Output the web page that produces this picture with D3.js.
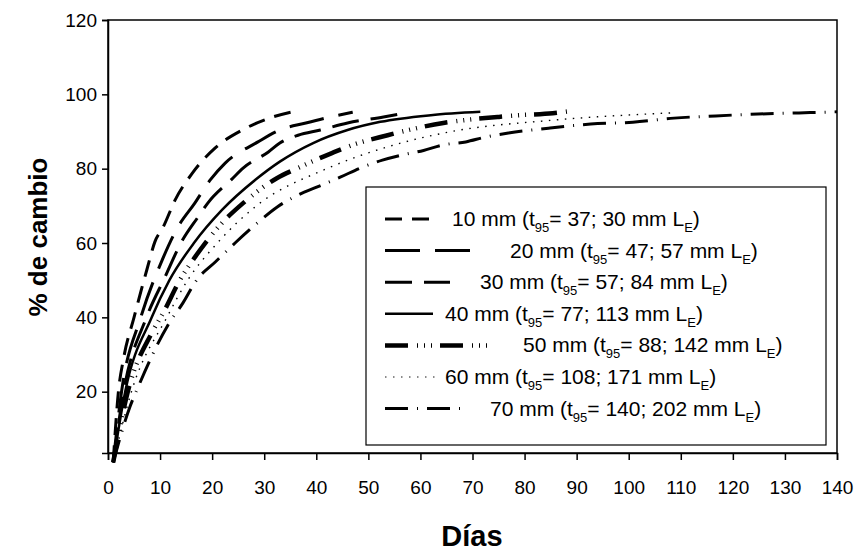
<!DOCTYPE html>
<meta charset="utf-8">
<style>
    body { margin: 0; background: #fff; }
    text { font-family: "Liberation Sans", Arial, sans-serif; fill: #000; }
    .curve { fill: none; stroke: #000; }
</style>
<body>
<script src="https://cdn.jsdelivr.net/npm/d3@7"></script>
<script>

    var width = 860,
        height = 552;

    // series labels and legend numbers
    var sizes = ["10 mm", "20 mm", "30 mm", "40 mm", "50 mm", "60 mm", "70 mm"];
    var t95 = [37, 47, 57, 77, 88, 108, 140];
    var lengthsE = [30, 57, 84, 113, 142, 171, 202];

    // readings from the picture: days and % de cambio
    var days10 = [1, 2, 3, 5, 7.5, 9, 10.6, 12.9, 16.2, 20.6, 25.8, 31, 36];
    var vals10 = [1, 20, 29, 40, 53, 60.3, 64.3, 71.6, 78.8, 85.6, 90.4, 93.6, 95.5];

    var days20 = [1, 2.6, 6.3, 10.4, 13.3, 16.7, 19.6, 22.5, 28.8, 33, 38, 42, 47];
    var vals20 = [1, 20, 40, 55.4, 64, 70.8, 76.9, 81.5, 87.2, 90.4, 92.3, 93.7, 95.2];

    var days30 = [1, 3, 7.4, 11, 14, 17.3, 19.2, 23.8, 26, 30.8, 33, 36.5, 40.8, 46, 52.9, 57.3];
    var vals30 = [1, 20, 40, 51, 60, 67, 70.8, 77.2, 80.2, 84.5, 86.9, 89, 90.4, 92.3, 93.9, 95];

    var days40 = [1, 3.3, 8.4, 11.8, 16.5, 21.9, 28.3, 33, 39.4, 46, 52.3, 62, 71.5];
    var vals40 = [1, 20, 40, 50, 60, 68.9, 77, 81.9, 86.9, 90.4, 92.6, 94.4, 95.3];

    var days50 = [1, 3.8, 8.4, 10.6, 13.8, 16.7, 21.9, 26, 32.5, 36.5, 43, 47, 53.7, 57.7, 64.4, 68.7, 74.8, 79.2, 85.4, 88.3];
    var vals50 = [1, 20, 35.8, 41.2, 50, 56.2, 65.4, 70.8, 77.5, 80.2, 84.2, 86.4, 89, 90.4, 92.3, 93.1, 93.9, 94.4, 94.9, 95.4];

    var days60 = [1, 4.5, 11.3, 15.3, 21, 28.5, 42, 54, 66, 85, 108];
    var vals60 = [1, 20, 40, 50, 60, 70, 80, 86, 90, 93, 95];

    var days70 = [1, 4.2, 5.8, 11.5, 14.4, 17, 20.6, 24.4, 28.7, 32.5, 36.5, 40.2, 44.6, 48.5, 52.7, 56.5, 60.6, 64.4, 68.7, 72.5, 76.9, 84.6, 92.7, 100.8, 108.7, 116.7, 124.8, 132.7, 140];
    var vals70 = [1, 15.9, 21.3, 37.9, 43.9, 50, 54.9, 60, 65.4, 69.7, 72.9, 75.1, 77.7, 80.2, 82.3, 83.7, 84.9, 86.4, 87.2, 88.5, 89.6, 90.9, 92, 92.5, 93.6, 94.2, 94.7, 95, 95.3];

    var xTicks = d3.range(0, 141, 10);
    var yTicks = [20, 40, 60, 80, 100, 120];

    var allDays = [days10, days20, days30, days40, days50, days60, days70];
    var allVals = [vals10, vals20, vals30, vals40, vals50, vals60, vals70];

    // line looks: dash pattern, width, colour
    var styles = [
        { dash: "17,10", w: 3, c: "#000" },
        { dash: "35,15", w: 3, c: "#000" },
        { dash: "27,12", w: 3, c: "#000" },
        { dash: null, w: 2.5, c: "#000" },
        { dash: "23,9,1,6,1,6,1,8", w: 4.5, c: "#000" },
        { dash: "1.5,6.5", w: 1.4, c: "#666" },
        { dash: "23,9,1,9", w: 3, c: "#000" }
    ];

    var pL = 108, pR = 837, pT = 20, pB = 453;

    var x = d3.scaleLinear().domain([0, 140]).range([pL, pR]);
    var y = d3.scaleLinear().domain([3.5, 120]).range([pB, pT]);

    var svg = d3.select("body").append("svg")
        .attr("width", width)
        .attr("height", height);

    // frame
    svg.append("rect")
        .attr("x", pL).attr("y", pT)
        .attr("width", pR - pL).attr("height", pB - pT)
        .attr("fill", "none").attr("stroke", "#000").attr("stroke-width", 1.5);

    var xAxis = svg.append("g")
        .attr("transform", "translate(0," + pB + ")")
        .call(d3.axisBottom(x).tickValues(xTicks).tickSize(7).tickPadding(21));
    var yAxis = svg.append("g")
        .attr("transform", "translate(" + pL + ",0)")
        .call(d3.axisLeft(y).tickValues(yTicks).tickSize(6).tickPadding(5));

    [xAxis, yAxis].forEach(function(a) {
        a.select(".domain").attr("stroke-width", 1.5);
        a.selectAll(".tick line").attr("stroke-width", 1.5);
        a.selectAll("text").style("font-size", "19px")
            .style("font-family", "'Liberation Sans', Arial, sans-serif");
    });

    var line = d3.line()
        .x(function(d) { return x(d[0]); })
        .y(function(d) { return y(d[1]); })
        .curve(d3.curveMonotoneX);

    svg.selectAll("path.curve")
        .data(d3.range(7))
        .enter().append("path")
        .attr("class", "curve")
        .attr("d", function(i) { return line(d3.zip(allDays[i], allVals[i])); })
        .attr("stroke", function(i) { return styles[i].c; })
        .attr("stroke-width", function(i) { return styles[i].w; })
        .attr("stroke-dasharray", function(i) { return styles[i].dash; });

    // legend
    var lg = svg.append("g");
    lg.append("rect")
        .attr("x", 366).attr("y", 187).attr("width", 460).attr("height", 258)
        .attr("fill", "#fff").attr("stroke", "#000").attr("stroke-width", 1.2);

    var sampleEnd = [430, 470, 450, 433, 487, 435, 462];
    var textStart = [452, 510, 480, 445, 523, 445, 490];

    sizes.forEach(function(s, i) {
        var yy = 219 + i * 31.6;
        lg.append("line")
            .attr("x1", 385).attr("x2", sampleEnd[i])
            .attr("y1", yy).attr("y2", yy)
            .attr("stroke", styles[i].c)
            .attr("stroke-width", styles[i].w)
            .attr("stroke-dasharray", styles[i].dash);
        var t = lg.append("text")
            .attr("x", textStart[i]).attr("y", yy + 7)
            .style("font-size", "21px");
        t.append("tspan").text(s + " (t");
        t.append("tspan").attr("dy", 6).style("font-size", "13px").text("95");
        t.append("tspan").attr("dy", -6).text("= " + t95[i] + "; " + lengthsE[i] + " mm L");
        t.append("tspan").attr("dy", 6).style("font-size", "13px").text("E");
        t.append("tspan").attr("dy", -6).text(")");
    });

    // axis titles
    svg.append("text")
        .attr("transform", "translate(47,237) rotate(-90)")
        .attr("text-anchor", "middle")
        .style("font-size", "26px").style("font-weight", "bold")
        .text("% de cambio");

    svg.append("text")
        .attr("x", 472).attr("y", 546)
        .attr("text-anchor", "middle")
        .style("font-size", "29px").style("font-weight", "bold")
        .text("Días");

</script>
